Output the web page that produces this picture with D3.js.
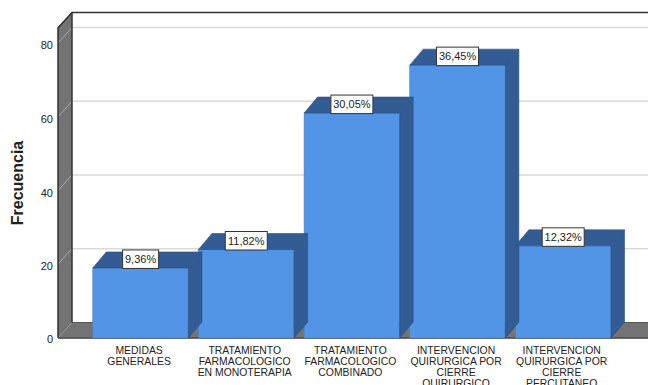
<!DOCTYPE html>
<html><head><meta charset="utf-8">
<script src="https://cdn.jsdelivr.net/npm/d3@7"></script>
<style>html,body{margin:0;padding:0;background:#fff;overflow:hidden}svg{display:block}text{font-family:"Liberation Sans",Arial,sans-serif;fill:#222}</style>
</head><body><svg id="c" width="648" height="385"></svg>
<script>
const categories=[
 ["MEDIDAS","GENERALES"],
 ["TRATAMIENTO","FARMACOLOGICO","EN MONOTERAPIA"],
 ["TRATAMIENTO","FARMACOLOGICO","COMBINADO"],
 ["INTERVENCION","QUIRURGICA POR","CIERRE","QUIRURGICO"],
 ["INTERVENCION","QUIRURGICA POR","CIERRE","PERCUTANEO"]];
const counts=[19,24,61,74,25];
const percentLabels=["9,36%","11,82%","30,05%","36,45%","12,32%"];
const yTicks=[0,20,40,60,80];
const yTitle="Frecuencia";

const svg=d3.select("#c");
const dx=14, dy=-15.5, barDx=13.5, barDy=-16;
const left=58,right=648+dx;
const y=d3.scaleLinear().domain([0,80]).range([338,43]);
const yTop=y(84.1);
const x=d3.scaleBand().domain(d3.range(counts.length)).range([92.8,611]).paddingInner(0.095);
const poly=(pts,fill,stroke,sw)=>svg.append("polygon").attr("points",pts.map(p=>p.join(",")).join(" "))
  .attr("fill",fill).attr("stroke",stroke||"none").attr("stroke-width",sw||0);

// floor and left wall
poly([[left,y(0)],[left+dx,y(0)+dy],[right,y(0)+dy],[right-dx,y(0)]],"#737373","#555",1);
poly([[left,yTop],[left+dx,yTop+dy],[left+dx,y(0)+dy],[left,y(0)]],"#737373");
// gridlines
yTicks.filter(t=>t>0).forEach(t=>{
  svg.append("line").attr("x1",left+dx).attr("x2",648).attr("y1",y(t)+dy).attr("y2",y(t)+dy).attr("stroke","#d9d9d9").attr("stroke-width",1.4);
  svg.append("line").attr("x1",left).attr("x2",left+dx).attr("y1",y(t)).attr("y2",y(t)+dy).attr("stroke","#a8a8a8").attr("stroke-width",1);
});
svg.append("line").attr("x1",left).attr("x2",left+dx).attr("y1",y(0)).attr("y2",y(0)+dy).attr("stroke","#999").attr("stroke-width",1);
// wall edges
svg.append("path").attr("fill","none").attr("stroke","#333").attr("stroke-width",1.5)
  .attr("d",`M${left},${y(0)}V${yTop}L${left+dx},${yTop+dy}H648M${left+dx},${yTop+dy}V${y(0)+dy}`);
svg.append("line").attr("x1",left).attr("x2",648).attr("y1",y(0)).attr("y2",y(0)).attr("stroke","#555").attr("stroke-width",1.5);

// bars
const g=svg.append("g");
counts.forEach((v,i)=>{
  const x0=x(i),x1=x0+x.bandwidth(),t=y(v),b=y(0);
  poly([[x1,t],[x1+barDx,t+barDy],[x1+barDx,b+barDy],[x1,b]],"#335c94","#2c4f80",.6);
  poly([[x0,t],[x0+barDx,t+barDy],[x1+barDx,t+barDy],[x1,t]],"#335c94","#2c4f80",.6);
  g.append("rect").attr("x",x0).attr("y",t).attr("width",x.bandwidth()).attr("height",b-t).attr("fill","#5294e5").attr("stroke","#4a7fc0").attr("stroke-width",.6);
});
// percent labels
percentLabels.forEach((s,i)=>{
  const cx=x(i)+x.bandwidth()/2, cy=y(counts[i])-9;
  const w=s.length>5?42:36;
  svg.append("rect").attr("x",cx-w/2).attr("y",cy-9).attr("width",w).attr("height",18.5).attr("fill","#fff").attr("stroke","#333").attr("stroke-width",1);
  svg.append("text").attr("x",cx).attr("y",cy+4).attr("text-anchor","middle").attr("font-size",11).text(s);
});
// axis ticks
yTicks.forEach(t=>svg.append("text").attr("x",53).attr("y",y(t)+(t===0?5:6)).attr("text-anchor","end").attr("font-size",11).text(t));
svg.append("text").attr("transform","translate(22.5,183) rotate(-90)").attr("text-anchor","middle").attr("font-size",16).attr("font-weight","bold").attr("fill","#111").text(yTitle);
// category labels
categories.forEach((lines,i)=>{
  const cx=x(i)+x.bandwidth()/2-1.5;
  lines.forEach((l,j)=>svg.append("text").attr("x",cx).attr("y",353.5+j*11.3).attr("text-anchor","middle").attr("font-size",10.4).text(l));
});
</script></body></html>
